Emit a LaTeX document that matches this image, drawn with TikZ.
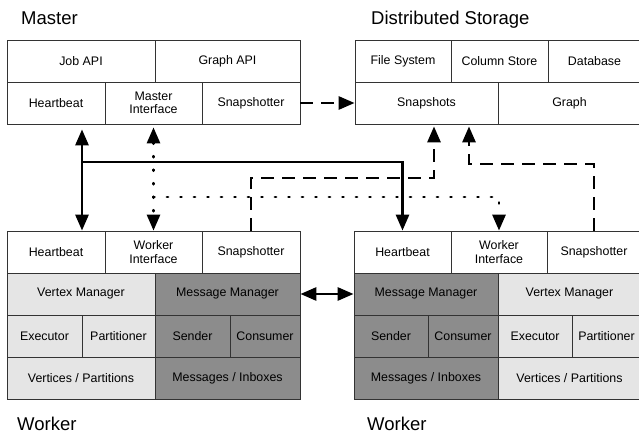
\documentclass[tikz,border=0pt]{standalone}
\usepackage{fontspec}
\setmainfont{Liberation Sans}
\usetikzlibrary{arrows.meta}

\begin{document}
\begin{tikzpicture}[
        x=1pt, y=-1pt,
        >={Triangle[length=16pt,width=13pt]},
        cell/.style={rectangle, draw=black!80, line width=0.8pt, minimum height=42pt, inner sep=0pt, align=center, font=\fontsize{12.4}{13.4}\selectfont},
        light/.style={cell, fill=black!10},
        dark/.style={cell, fill=black!45},
        title/.style={anchor=base west, inner sep=0pt, font=\fontsize{18.5}{20}\selectfont},
        solidlink/.style={line width=2.8pt},
        dashlink/.style={line width=2.8pt, dash pattern=on 13pt off 8pt},
        dotlink/.style={line width=2.8pt, line cap=round, dash pattern=on 1pt off 12.5pt}
    ]
        \useasboundingbox (0,0) rectangle (639,435);

        % Master
        \node[title] (master_label) at (21,25) {Master};
        \node[cell, minimum width=148] (m_job) at (81,61) {Job API};
        \node[cell, minimum width=145] (m_graph) at (227.5,61) {Graph API};
        \node[cell, minimum width=98] (m_hb) at (56,103) {Heartbeat};
        \node[cell, minimum width=97] (m_if) at (153.5,103) {Master\\Interface};
        \node[cell, minimum width=98] (m_snap) at (251,103) {Snapshotter};

        % Distributed storage (runs off the right edge)
        \node[title] (storage_label) at (371,25) {Distributed Storage};
        \node[cell, minimum width=96] (s_fs) at (403,61) {File System};
        \node[cell, minimum width=97] (s_col) at (499.5,61) {Column Store};
        \node[cell, minimum width=93] (s_db) at (594.5,61) {Database};
        \node[cell, minimum width=143] (s_snaps) at (426.5,103) {Snapshots};
        \node[cell, minimum width=143] (s_graph) at (569.5,103) {Graph};

        % Worker on the left
        \node[cell, minimum width=98] (wl_hb) at (56,252) {Heartbeat};
        \node[cell, minimum width=97] (wl_if) at (153.5,252) {Worker\\Interface};
        \node[cell, minimum width=98] (wl_snap) at (251,252) {Snapshotter};
        \node[light, minimum width=148] (wl_vm) at (81,294) {Vertex Manager};
        \node[dark, minimum width=145] (wl_mm) at (227.5,294) {Message Manager};
        \node[light, minimum width=75] (wl_exec) at (44.5,336) {Executor};
        \node[light, minimum width=73] (wl_part) at (118.5,336) {Partitioner};
        \node[dark, minimum width=75] (wl_send) at (192.5,336) {Sender};
        \node[dark, minimum width=70] (wl_cons) at (265,336) {Consumer};
        \node[light, minimum width=148] (wl_vert) at (81,378) {Vertices / Partitions};
        \node[dark, minimum width=145] (wl_msg) at (227.5,378) {Messages / Inboxes};
        \node[title] (wl_label) at (17,430) {Worker};

        % Worker on the right (mirrored)
        \node[cell, minimum width=97] (wr_hb) at (402.5,252) {Heartbeat};
        \node[cell, minimum width=96] (wr_if) at (499,252) {Worker\\Interface};
        \node[cell, minimum width=94] (wr_snap) at (594,252) {Snapshotter};
        \node[dark, minimum width=144] (wr_mm) at (426,294) {Message Manager};
        \node[light, minimum width=143] (wr_vm) at (569.5,294) {Vertex Manager};
        \node[dark, minimum width=74] (wr_send) at (391,336) {Sender};
        \node[dark, minimum width=70] (wr_cons) at (463,336) {Consumer};
        \node[light, minimum width=74] (wr_exec) at (535,336) {Executor};
        \node[light, minimum width=69] (wr_part) at (606.5,336) {Partitioner};
        \node[dark, minimum width=144] (wr_msg) at (426,378) {Messages / Inboxes};
        \node[light, minimum width=143] (wr_vert) at (569.5,378) {Vertices / Partitions};
        \node[title] (wr_label) at (367,430) {Worker};

        % Bends of the connectors
        \coordinate (hb_split) at (82,162);
        \coordinate (if_split) at (153.5,197);
        \coordinate (snap_bend_l) at (434,178);
        \coordinate (snap_bend_r) at (469,164);

        % Heartbeats
        \draw[solidlink, <->, shorten <=5pt] ([xshift=26pt]m_hb.south) -- ([xshift=26pt]wl_hb.north);
        \draw[solidlink, ->] (hb_split) -| (wr_hb.north);

        % Interfaces
        \draw[dotlink, <->, shorten <=3pt] (m_if.south) -- (wl_if.north);
        \draw[dotlink, ->] (if_split) -| (wr_if.north);

        % Snapshots
        \draw[dashlink, ->] (m_snap.east) -- (s_snaps.west);
        \draw[dashlink, ->, shorten >=2pt] (wl_snap.north) |- (snap_bend_l) -- ([xshift=7.5pt]s_snaps.south);
        \draw[dashlink, ->, shorten >=2pt] (wr_snap.north) |- (snap_bend_r) -- ([xshift=42.5pt]s_snaps.south);

        % Messages between workers
        \draw[solidlink, <->] (wl_mm.east) -- (wr_mm.west);

\end{tikzpicture}
\end{document}
